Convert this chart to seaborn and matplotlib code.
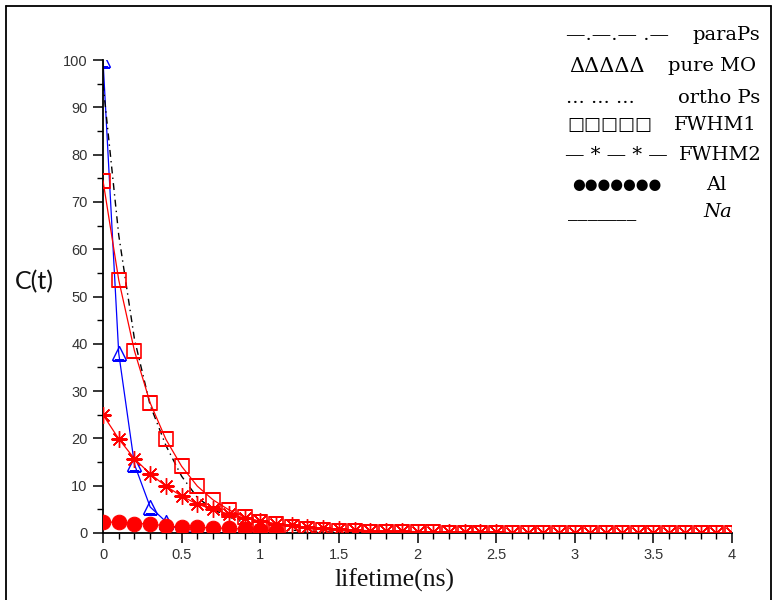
import numpy as np
import pandas as pd
import matplotlib
matplotlib.use("Agg")
import matplotlib.pyplot as plt
from matplotlib.lines import Line2D
from matplotlib.path import Path
from matplotlib.ticker import MultipleLocator
import seaborn as sns

# lifetime axis (ns), sampled every 0.1 ns
lifetime = [round(0.1 * i, 1) for i in range(41)]

para_ps = [95, 63, 41, 27, 18.5, 12, 7.5, 5, 3.4, 2.2, 1.4, 0.9, 0.6, 0.4, 0.25,
           0.15, 0.1, 0.06, 0.04, 0.02, 0.01] + [0] * 20
pure_mo = [100, 38, 14.5, 5.5, 2.4, 0.3, 0.1, 0.05, 0.02, 0.01, 0, 0]
fwhm1 = [74.5, 53.5, 38.5, 27.5, 19.8, 14.1, 9.9, 7.0, 4.9, 3.4, 2.4, 1.8, 1.3,
         0.9, 0.7, 0.5, 0.4, 0.3, 0.25, 0.2, 0.15, 0.12, 0.1, 0.08, 0.06, 0.05,
         0.04, 0.04, 0.03, 0.03, 0.02, 0.02, 0.02, 0.02, 0.01, 0.01, 0.01, 0.01,
         0.01, 0.01, 0.01]
fwhm2 = [25, 19.9, 15.7, 12.5, 9.9, 7.8, 6.1, 5.0, 4.0, 3.2, 2.5, 2.0, 1.6, 1.2,
         1.0, 0.8, 0.6, 0.5, 0.4, 0.35, 0.3, 0.25, 0.2, 0.18, 0.15, 0.12, 0.1,
         0.09, 0.08, 0.07, 0.06, 0.05, 0.04, 0.04, 0.03, 0.03, 0.02, 0.02, 0.02,
         0.01, 0.01]
al = [2.3, 2.3, 2.0, 1.9, 1.5, 1.2, 1.2, 1.05, 1.0, 0.8, 0.6, 0.5]

x_ticks = [0, 0.5, 1, 1.5, 2, 2.5, 3, 3.5, 4]
x_tick_labels = ["0", "0.5", "1", "1.5", "2", "2.5", "3", "3.5", "4"]
y_ticks = list(range(0, 101, 10))

legend_symbols = ["\u2014.\u2014.\u2014 .\u2014", "\u0394\u0394\u0394\u0394\u0394",
                  "... ... ...", "\u25a1\u25a1\u25a1\u25a1\u25a1",
                  "\u2014 * \u2014 * \u2014", "\u25cf\u25cf\u25cf\u25cf\u25cf\u25cf\u25cf",
                  "_______"]
legend_labels = ["paraPs", "pure MO", "ortho Ps", "FWHM1", "FWHM2", "Al", "Na"]

sns.set_style("ticks")
plt.rcParams["font.family"] = ["DejaVu Sans"]

W, H = 776, 600
fig = plt.figure(figsize=(W / 100, H / 100), dpi=100)
ax = fig.add_axes([103 / W, (H - 533) / H, 629 / W, 473 / H])

n_mo = len(pure_mo)
n_al = len(al)

sns.lineplot(x=lifetime[:n_mo], y=pure_mo, ax=ax, color="#0000ff", lw=0.9,
             marker="^", markersize=10, markerfacecolor="none",
             markeredgecolor="#0000ff", markeredgewidth=1.0, zorder=2)
sns.lineplot(x=lifetime, y=para_ps, ax=ax, color="black", lw=1.0,
             linestyle=(0, (5, 3, 1, 3)), zorder=2)
sns.lineplot(x=lifetime[:n_al], y=al, ax=ax, color="#ff0000", lw=0.9,
             marker="o", markersize=10.5, markerfacecolor="#ff0000",
             markeredgecolor="#ff0000", zorder=3)
sns.lineplot(x=lifetime, y=fwhm1, ax=ax, color="#ff0000", lw=0.9,
             marker="s", markersize=10.5, markerfacecolor="none",
             markeredgecolor="#ff0000", markeredgewidth=1.2, zorder=4)
sns.lineplot(x=lifetime, y=fwhm2, ax=ax, color="#ff0000", lw=0.9,
             marker=(8, 2, 0), markersize=12, markerfacecolor="#ff0000",
             markeredgecolor="#ff0000", markeredgewidth=1.0, zorder=5)

# cut the markers at the plotting-area edges (a path clip also clips markers)
area = Path([(0, 0), (1, 0), (1, 1), (0, 1), (0, 0)], closed=True)
for ln in ax.lines:
    ln.set_clip_on(True)
    ln.set_clip_path(area, ax.transAxes)

ax.set_xlim(0, 4)
ax.set_ylim(0, 100)
ax.set_xticks(x_ticks)
ax.set_xticklabels(x_tick_labels)
ax.set_yticks(y_ticks)
ax.xaxis.set_minor_locator(MultipleLocator(0.1))
ax.yaxis.set_minor_locator(MultipleLocator(5))
ax.tick_params(which="major", direction="out", length=7, width=1.1,
               labelsize=10.5, labelcolor="#333333", color="black", pad=4)
ax.tick_params(which="minor", direction="out", length=4, width=1.0, color="black")
for lab in ax.get_xticklabels() + ax.get_yticklabels():
    lab.set_family(["Liberation Sans", "DejaVu Sans"])
for side in ("top", "right"):
    ax.spines[side].set_visible(False)
for side in ("left", "bottom"):
    ax.spines[side].set_linewidth(1.3)
    ax.spines[side].set_color("black")
ax.set_xlabel("")
ax.set_ylabel("")

serif = ["DejaVu Serif", "DejaVu Sans"]
fig.text(15 / W, 1 - 282 / H, "C(t)", family=["Lato", "DejaVu Sans"], fontsize=18,
         color="#111111", ha="left", va="center")
fig.text(395 / W, 1 - 580 / H, "lifetime(ns)", family=["Liberation Serif", "DejaVu Serif"],
         fontsize=18.5, color="#111111", ha="center", va="center")

# hand-written key in the upper right corner
rows_y = [35, 66, 98, 125, 155, 185, 212]
sym_x = [566, 569, 566, 567, 565, 572, 568]
lab_x = [760, 756, 760, 757, 762, 716, 718]
lab_align = ["right", "right", "right", "right", "right", "center", "center"]
sym_size = [14, 15, 14, 13, 14, 10.5, 14]
for i, (sym, lab) in enumerate(zip(legend_symbols, legend_labels)):
    fig.text(sym_x[i] / W, 1 - rows_y[i] / H, sym, family=serif, fontsize=sym_size[i],
             color="black", ha="left", va="center")
    fig.text(lab_x[i] / W, 1 - rows_y[i] / H, lab, family=serif, fontsize=14,
             color="black", ha=lab_align[i], va="center",
             style="italic" if lab == "Na" else "normal")

# outer frame on the left, top and right edges
frame_kw = dict(color="black", lw=1.3, transform=fig.transFigure)
fig.add_artist(Line2D([5.5 / W, 5.5 / W], [0, 1 - 5.5 / H], **frame_kw))
fig.add_artist(Line2D([5.5 / W, 770.5 / W], [1 - 5.5 / H, 1 - 5.5 / H], **frame_kw))
fig.add_artist(Line2D([770.5 / W, 770.5 / W], [0, 1 - 5.5 / H], **frame_kw))

fig.savefig("out.png", dpi=100, facecolor="white")
